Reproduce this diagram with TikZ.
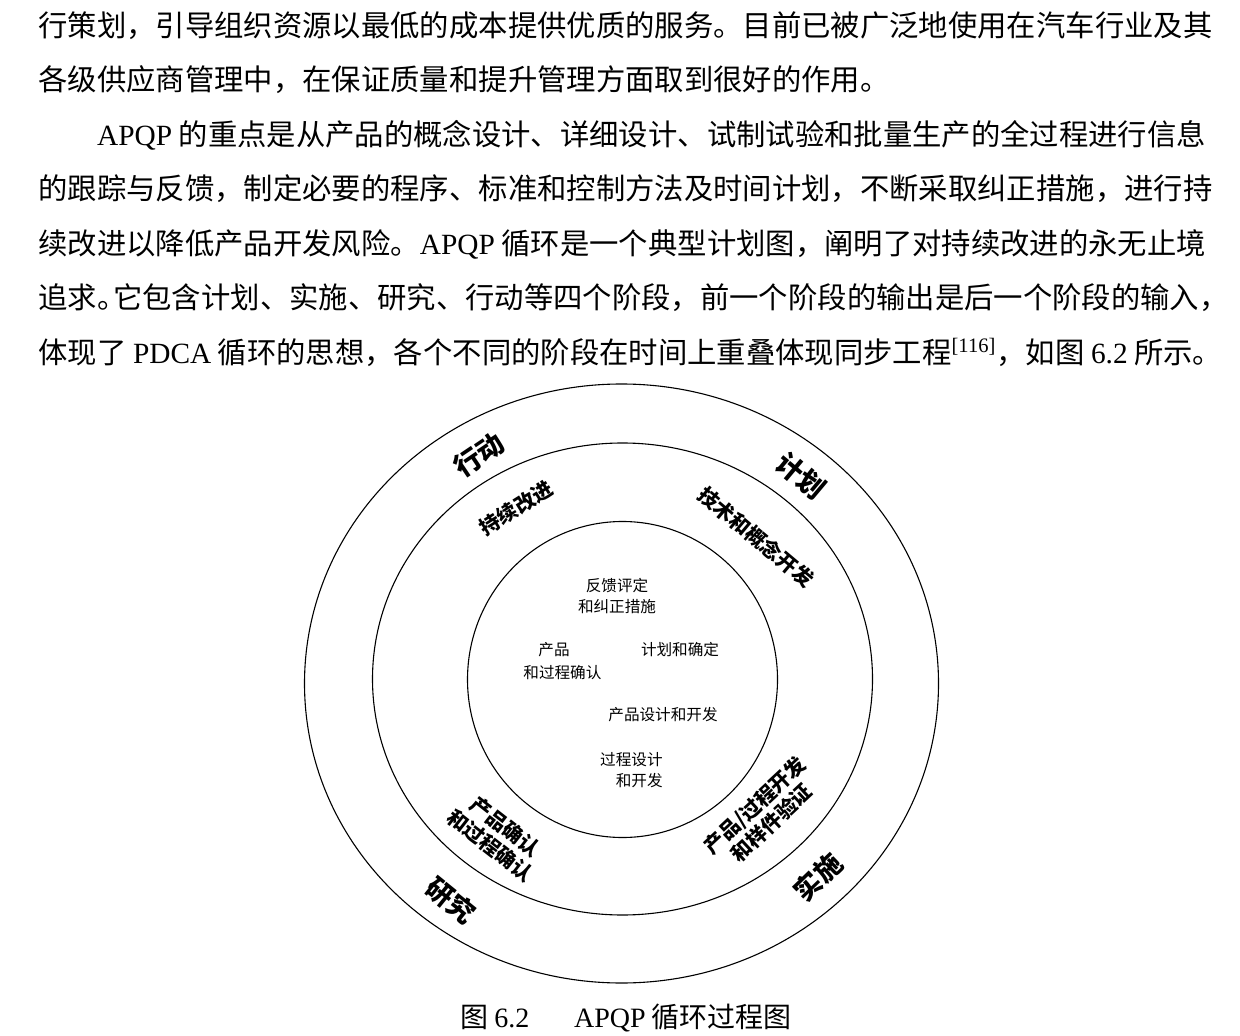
\documentclass[tikz,border=0pt]{standalone}
\usepackage{fontspec}
\setmainfont{Liberation Serif}
\newfontfamily\cjk{Noto Sans CJK SC}
\newcommand\bodyfont{\cjk\fontsize{14.675pt}{14.675pt}\selectfont}
\newcommand\capfont{\cjk\fontsize{14pt}{14pt}\selectfont}
\newcommand\phasefont{\cjk\bfseries\fontsize{13.5pt}{13.5pt}\selectfont}
\newcommand\ringfont{\cjk\bfseries\fontsize{10.2pt}{12pt}\selectfont}
\newcommand\stepfont{\cjk\fontsize{7.8pt}{10.4pt}\selectfont}
\newcommand\lat[1]{{\rmfamily #1}}

\begin{document}
\begin{tikzpicture}[x=0.5pt,y=-0.5pt,
    bodyline/.style={anchor=base west,inner sep=0pt,font=\bodyfont},
    phasetext/.style={inner sep=0pt,font=\phasefont},
    ringtext/.style={inner sep=0pt,font=\ringfont,align=center},
    steptext/.style={inner sep=0pt,font=\stepfont},
    ring/.style={line width=0.55pt}]
	\useasboundingbox (0,0) rectangle (1240,1036);
	% body text
	\node[bodyline] (line1) at (38,36.2) {行策划，引导组织资源以最低的成本提供优质的服务。目前已被广泛地使用在汽车行业及其};
	\node[bodyline] (line2) at (38,90.7) {各级供应商管理中，在保证质量和提升管理方面取到很好的作用。};
	\node[bodyline] (line3) at (96.7,145.2) {\lat{APQP} 的重点是从产品的概念设计、详细设计、试制试验和批量生产的全过程进行信息};
	\node[bodyline] (line4) at (38,199.7) {的跟踪与反馈，制定必要的程序、标准和控制方法及时间计划，不断采取纠正措施，进行持};
	\node[bodyline] (line5) at (38,254.2) {续改进以降低产品开发风险。\lat{APQP} 循环是一个典型计划图，阐明了对持续改进的永无止境};
	\node[bodyline] (line6) at (38,308.7) {追求。\kern-0.45em 它包含计划、实施、研究、行动等四个阶段，前一个阶段的输出是后一个阶段的输入，};
	\node[bodyline] (line7) at (38,363.2) {体现了 \lat{PDCA} 循环的思想，各个不同的阶段在时间上重叠体现同步工程\lat{\textsuperscript{[116]}}，如图 \lat{6.2} 所示。};
	% rings
	\draw[ring] (621.5,683.5) ellipse [x radius=317,y radius=299.5];
	\draw[ring] (622.5,679) ellipse [x radius=250,y radius=236];
	\draw[ring] (622.5,679.5) ellipse [x radius=155,y radius=158];
	% phases on the outer ring
	\node[phasetext, rotate=34] (act) at (479,455) {行动};
	\node[phasetext, rotate=-40] (plan) at (801,476) {计划};
	\node[phasetext, rotate=-39] (study) at (451,900) {研究};
	\node[phasetext, rotate=44] (do) at (818,877) {实施};
	% stages on the middle ring
	\node[ringtext, rotate=32] (improve) at (516,508) {持续改进};
	\node[ringtext, rotate=-40] (concept) at (756,537) {技术和概念开发};
	\node[ringtext, rotate=-38] (validate) at (498,836) {产品确认\\和过程确认};
	\node[ringtext, rotate=43] (prototype) at (763,814) {产品/过程开发\\和样件验证};
	% steps inside the inner ring
	\node[steptext, align=center] (feedback) at (617,596) {反馈评定\\和纠正措施};
	\node[steptext, anchor=west] (prodname) at (538,650) {产品};
	\node[steptext, anchor=west] (prodcheck) at (523,673) {和过程确认};
	\node[steptext] (planning) at (680,650) {计划和确定};
	\node[steptext, anchor=east] (design) at (718,715) {产品设计和开发};
	\node[steptext, align=right, anchor=east] (process) at (663,770) {过程设计\\和开发};
	% caption
	\node[font=\capfont, inner sep=0pt] (caption) at (626,1018) {图 \lat{6.2}\hspace{1.6em}\lat{APQP} 循环过程图};
\end{tikzpicture}
\end{document}
